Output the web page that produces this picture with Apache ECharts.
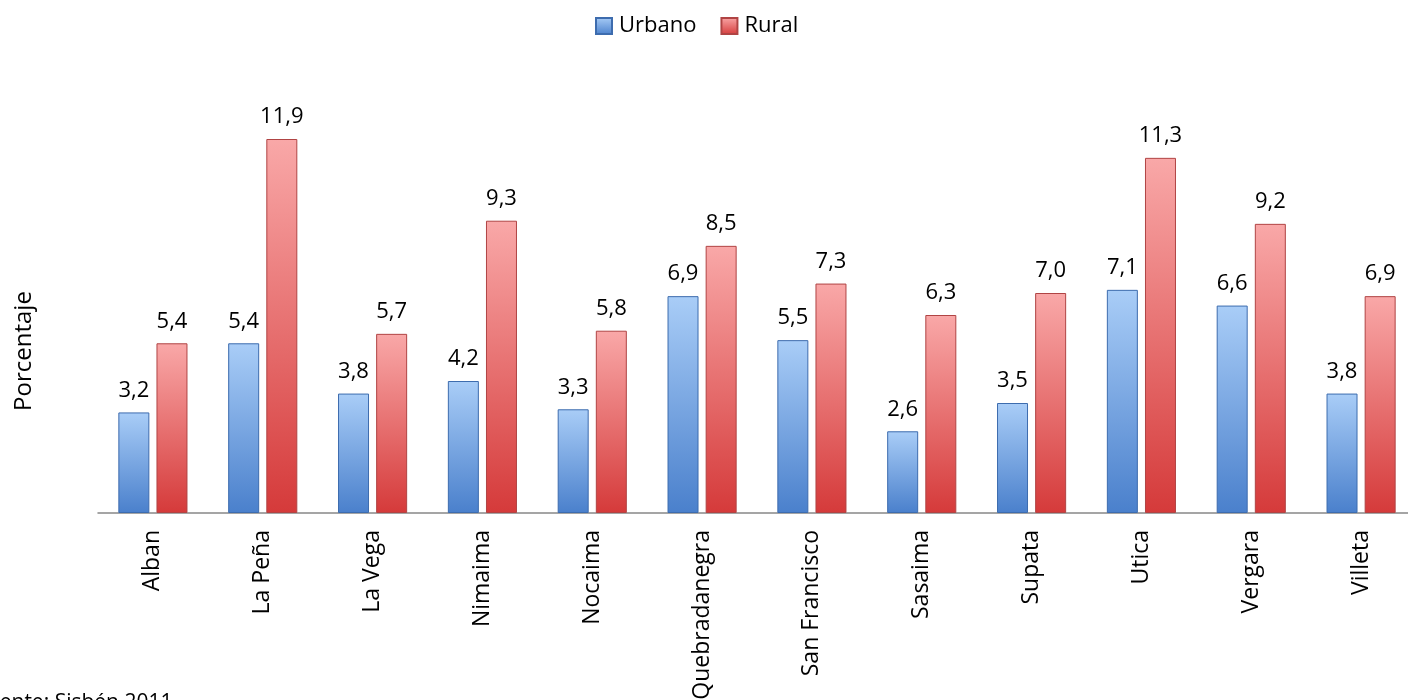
<!DOCTYPE html>
<html><head><meta charset="utf-8">
<script src="https://cdn.jsdelivr.net/npm/echarts@6/dist/echarts.min.js"></script>
<style>html,body{margin:0;padding:0;background:#fff}#c{width:1408px;height:700px}</style>
</head><body><div id="c"></div>
<script>
const categories = ['Alban','La Peña','La Vega','Nimaima','Nocaima','Quebradanegra','San Francisco','Sasaima','Supata','Utica','Vergara','Villeta'];
const urbano = [3.2,5.4,3.8,4.2,3.3,6.9,5.5,2.6,3.5,7.1,6.6,3.8];
const rural = [5.4,11.9,5.7,9.3,5.8,8.5,7.3,6.3,7.0,11.3,9.2,6.9];
const seriesNames = ['Urbano','Rural'];

const FONT = 'Open Sans';
const fmt = p => p.value.toFixed(1).replace('.', ',');
function grad(top, bottom){
  return {type:'linear',x:0,y:0,x2:0,y2:1,colorStops:[{offset:0,color:top},{offset:1,color:bottom}]};
}
const chart = echarts.init(document.getElementById('c'));
chart.setOption({
  animation:false,
  legend:{top:10,left:590,icon:'rect',itemWidth:16,itemHeight:16,itemGap:24,
    textStyle:{fontFamily:FONT,fontSize:22,color:'#000',padding:[0,0,0,2]},
    data:seriesNames},
  grid:{left:98,right:-8,top:73,bottom:187,containLabel:false,outerBoundsMode:'none'},
  xAxis:{type:'category',data:categories,
    axisLine:{lineStyle:{color:'#888',width:1.5}},axisTick:{show:false},
    axisLabel:{rotate:90,interval:0,margin:17,fontFamily:FONT,fontSize:23,color:'#000'}},
  yAxis:{type:'value',min:0,max:14,show:false,splitLine:{show:false}},
  graphic:[
    {type:'text',x:24,y:351,rotation:Math.PI/2,style:{text:'Porcentaje',fontFamily:FONT,fontSize:24,fill:'#000',textAlign:'center',textVerticalAlign:'middle'}},
    {type:'text',x:-24,y:693,style:{text:'Fuente: Sisbén 2011',fontFamily:FONT,fontSize:21,fill:'#000'}}
  ],
  series:[
    {name:seriesNames[0],type:'bar',data:urbano,barWidth:31,barGap:'23%',
      itemStyle:{color:grad('#a9cdf7','#4a80cc'),borderColor:'#3d6cae',borderWidth:1},
      label:{show:true,position:'top',distance:11,formatter:fmt,fontFamily:FONT,fontSize:22,color:'#000'}},
    {name:seriesNames[1],type:'bar',data:rural,barWidth:31,
      itemStyle:{color:grad('#f9a8a8','#d53a3a'),borderColor:'#b04444',borderWidth:1},
      label:{show:true,position:'top',distance:11,formatter:fmt,fontFamily:FONT,fontSize:22,color:'#000'}}
  ]
});
</script></body></html>
